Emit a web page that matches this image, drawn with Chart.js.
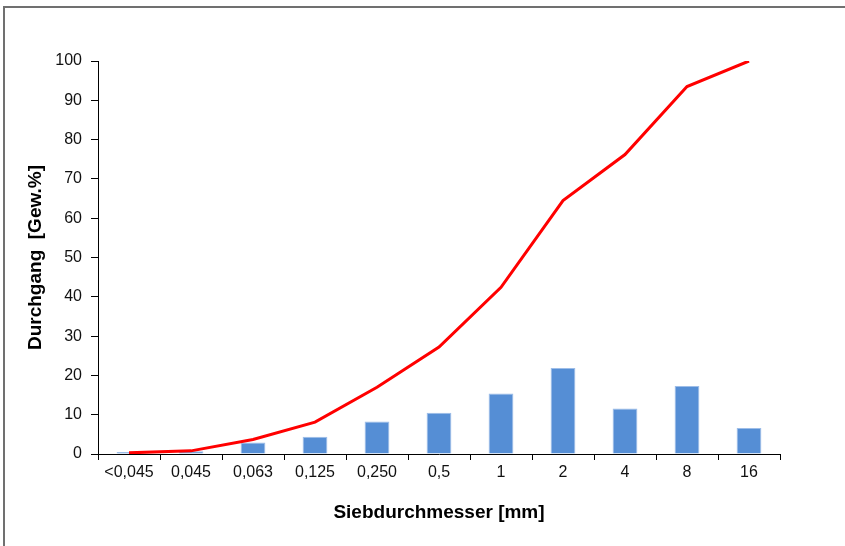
<!DOCTYPE html>
<html>
<head>
<meta charset="utf-8">
<script src="https://cdn.jsdelivr.net/npm/chart.js@4"></script>
<style>
  html, body { margin: 0; padding: 0; background: #fff; }
  #wrap { position: relative; width: 845px; height: 546px; overflow: hidden; }
  #frame { position: absolute; left: 3px; top: 6px; width: 900px; height: 600px;
           border-left: 2px solid #707070; border-top: 2px solid #707070; pointer-events: none; }
  canvas { position: absolute; left: 0; top: 0; }
</style>
</head>
<body>
<div id="wrap">
  <canvas id="c" width="845" height="546"></canvas>
  <div id="frame"></div>
</div>
<script>
const categories = ['<0,045', '0,045', '0,063', '0,125', '0,250', '0,5', '1', '2', '4', '8', '16'];
const fractionValues = [0.5, 0.7, 2.9, 4.4, 8.3, 10.5, 15.4, 21.9, 11.6, 17.3, 6.6];
const passingValues = [0.3, 0.8, 3.7, 8.1, 17.0, 27.2, 42.4, 64.5, 76.2, 93.5, 100];
const yTitle = 'Durchgang  [Gew.%]';
const xTitle = 'Siebdurchmesser [mm]';

const FONT = "'Liberation Sans', Arial, sans-serif";

new Chart(document.getElementById('c'), {
  data: {
    labels: categories,
    datasets: [
      {
        type: 'line',
        data: passingValues,
        borderColor: '#FF0000',
        borderWidth: 3,
        pointRadius: 0,
        tension: 0,
        fill: false,
        order: 0
      },
      {
        type: 'bar',
        data: fractionValues,
        backgroundColor: '#558ED5',
        borderColor: '#9DBDE8',
        borderWidth: 1,
        categoryPercentage: 1,
        barPercentage: 0.4,
        order: 1
      }
    ]
  },
  options: {
    responsive: false,
    animation: false,
    layout: { padding: { left: 0, top: 61, right: 65, bottom: 0 } },
    plugins: { legend: { display: false }, tooltip: { enabled: false } },
    scales: {
      x: {
        type: 'category',
        offset: true,
        grid: { offset: true, drawOnChartArea: false, drawTicks: true, tickLength: 6, color: '#000' },
        border: { color: '#000', width: 1 },
        ticks: { color: '#111', padding: 3, maxRotation: 0, autoSkip: false, font: { family: FONT, size: 16 } },
        title: { display: true, text: xTitle, color: '#000', padding: { top: 0, bottom: 22 },
                 font: { family: FONT, size: 19, weight: 'bold' } },
        afterFit: (s) => { s.height = 92; }
      },
      y: {
        min: 0, max: 100,
        grid: { drawOnChartArea: false, drawTicks: true, tickLength: 7, color: '#000' },
        border: { color: '#000', width: 1 },
        ticks: { stepSize: 10, color: '#111', padding: 9, font: { family: FONT, size: 16 } },
        title: { display: true, text: yTitle, color: '#000', padding: { top: 24, bottom: 0 },
                 font: { family: FONT, size: 19, weight: 'bold' } },
        afterFit: (s) => { s.width = 98; }
      }
    }
  }
});
</script>
</body>
</html>
